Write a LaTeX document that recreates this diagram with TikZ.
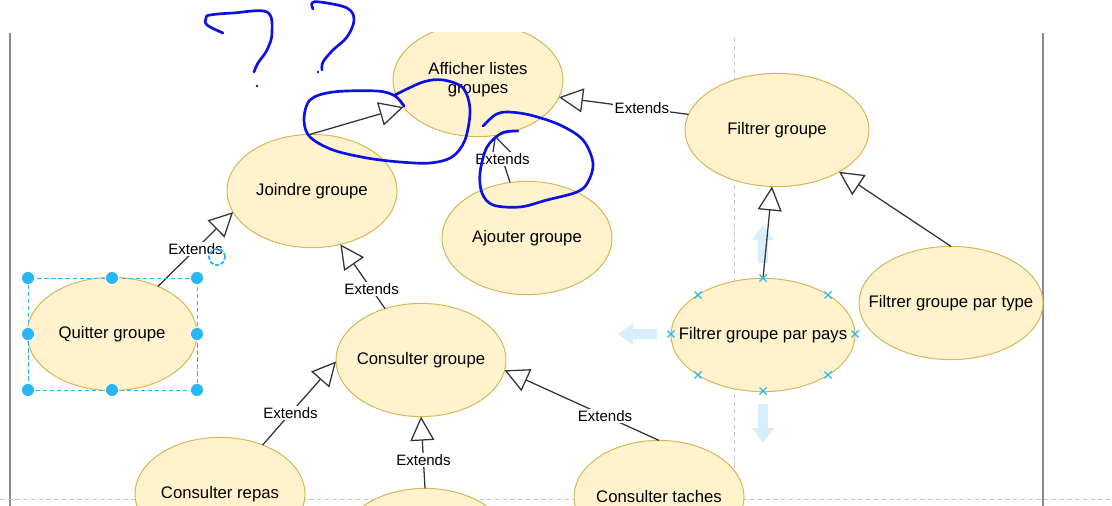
\documentclass[tikz,border=0pt]{standalone}
\usepackage{fontspec}
\setmainfont{Liberation Sans}
\usetikzlibrary{arrows.meta,shapes.geometric}
\definecolor{CaseFill}{HTML}{FFF2CC}
\definecolor{CaseLine}{HTML}{D6B656}
\definecolor{Edge}{HTML}{333333}
\definecolor{Frame}{HTML}{8C8C8C}
\definecolor{Guide}{HTML}{C4C4C4}
\definecolor{Select}{HTML}{29B6F2}
\definecolor{Hint}{HTML}{D9EEFC}
\definecolor{Ink}{HTML}{0A10E6}
\newcommand{\casetext}[1]{\makebox[0pt]{#1}}

\begin{document}
\begin{tikzpicture}[x=0.025cm,y=-0.025cm,
      usecase/.style={ellipse,draw=CaseLine,fill=CaseFill,line width=0.7pt,outer sep=0pt,inner sep=0pt,
        minimum width=4.25cm,minimum height=2.83cm,font=\fontsize{11.9}{14.2}\selectfont},
      wide/.style={usecase,minimum width=4.6cm},
      ext/.style={draw=Edge,line width=0.9pt,-{Triangle[open,length=6mm,width=6mm]}},
      tag/.style={fill=white,inner sep=1pt,font=\fontsize{10.7}{12}\selectfont},
      handle/.style={fill=Select,draw=white,line width=0.6pt},
      ink/.style={draw=Ink,line width=1.9pt,line cap=round,line join=round}]
      \clip (0,0) rectangle (1112,506);
      \draw[Frame,line width=1.4pt] (10,33) -- (10,506);
      \draw[Frame,line width=1.4pt] (1043,33) -- (1043,506);
      \draw[Guide,line width=0.7pt,dash pattern=on 3pt off 2.5pt] (734,38) -- (734,506);
      \draw[Guide,line width=0.7pt,dash pattern=on 3pt off 2.5pt] (0,499) -- (1112,499);
      \fill[Hint] (758,263) -- (758,240) -- (752,240) -- (763,225) -- (774,240) -- (768,240) -- (768,263) -- cycle;
      \fill[Hint] (657,329) -- (633,329) -- (633,323) -- (618,334) -- (633,345) -- (633,339) -- (657,339) -- cycle;
      \fill[Hint] (758,404) -- (758,428) -- (752,428) -- (763,443) -- (774,428) -- (768,428) -- (768,404) -- cycle;
      \begin{scope}
        \clip (0,32) rectangle (1112,506);
        \node[usecase] (afficher) at (478,80) {\begin{tabular}{@{}c@{}}Afficher listes\\groupes\end{tabular}};
      \end{scope}
      \node[usecase] (joindre) at (312,191) {\casetext{Joindre groupe}};
      \node[usecase] (ajouter) at (527,238) {\casetext{Ajouter groupe}};
      \node[wide] (filtrer) at (777,130) {\casetext{Filtrer groupe}};
      \node[usecase] (quitter) at (112,334) {\casetext{Quitter groupe}};
      \node[usecase] (consulter) at (421,360) {\casetext{Consulter groupe}};
      \node[wide] (pays) at (763,335) {\casetext{Filtrer groupe par pays}};
      \node[wide] (type) at (951,303) {\casetext{Filtrer groupe par type}};
      \node[usecase] (repas) at (220,494) {\casetext{Consulter repas}};
      \node[usecase] (taches) at (659,497) {\casetext{Consulter taches}};
      \node[usecase] (autre) at (425,545) {};
      \draw[ext] (joindre.92) -- (afficher.200);
      \draw[ext] (ajouter.107) -- node[tag,pos=0.5] {Extends} (afficher.287);
      \draw[ext] (filtrer.170) -- node[tag,pos=0.36] {Extends} (afficher.348);
      \draw[ext] (quitter.46) -- node[tag,pos=0.5] {Extends} (joindre.195);
      \draw[ext] (consulter.125) -- node[tag,pos=0.3] {Extends} (joindre.298);
      \draw[ext] (repas.49) -- node[tag,pos=0.38] {Extends} (consulter.181);
      \draw[ext] (autre.90) -- node[tag,pos=0.39] {Extends} (consulter.270);
      \draw[ext] (taches.90) -- node[tag,pos=0.35] {Extends} (consulter.353);
      \draw[ext] (pays.90) -- (filtrer.265);
      \draw[ext] (type.90) -- (filtrer.326);
      % selection around the use case being edited
      \draw[Select,line width=0.7pt,dash pattern=on 3pt off 2pt] (28,278) rectangle (197,390);
      \foreach \hx/\hy in {28/278,112/278,197/278,28/334,197/334,28/390,112/390,197/390}
        \filldraw[handle] (\hx,\hy) circle (0.165cm);
      \draw[Select,line width=1.3pt,dash pattern=on 3pt off 1.2pt] (217,257) circle (0.2cm);
      \foreach \hx/\hy in {763/278,698/295,828/295,671/334,855/334,698/375,828/375,763/391}
        \draw[Select,line width=0.9pt] (\hx-3.5,\hy-3.5) -- (\hx+3.5,\hy+3.5) (\hx-3.5,\hy+3.5) -- (\hx+3.5,\hy-3.5);
      % hand-drawn marks
      \draw[ink] plot[smooth,tension=0.6] coordinates {(223,33) (207,25) (206,18) (210,15) (233,13) (267,12) (272,33) (267,50) (258,63) (254,72)};
      \fill[Ink] (257,86) circle (0.035cm);
      \draw[ink] plot[smooth,tension=0.6] coordinates {(313,9) (312,3) (320,2) (347,8) (354,20) (347,37) (333,50) (323,62) (322,70)};
      \fill[Ink] (318,72) circle (0.035cm);
      \draw[ink] plot[smooth,tension=0.55] coordinates {(404,106) (395,96) (377,91) (333,92) (310,100) (304,120) (310,137) (333,150) (367,158) (400,162) (430,163) (452,157) (465,140) (470,110) (463,88) (443,80) (423,82) (395,95)};
      \draw[ink] plot[smooth,tension=0.55] coordinates {(483,126) (495,115) (507,112) (530,115) (560,125) (583,140) (593,163) (588,182) (577,192) (547,200) (520,207) (493,205) (482,193) (480,173) (487,147) (502,133) (518,131)};
    \end{tikzpicture}
\end{document}
